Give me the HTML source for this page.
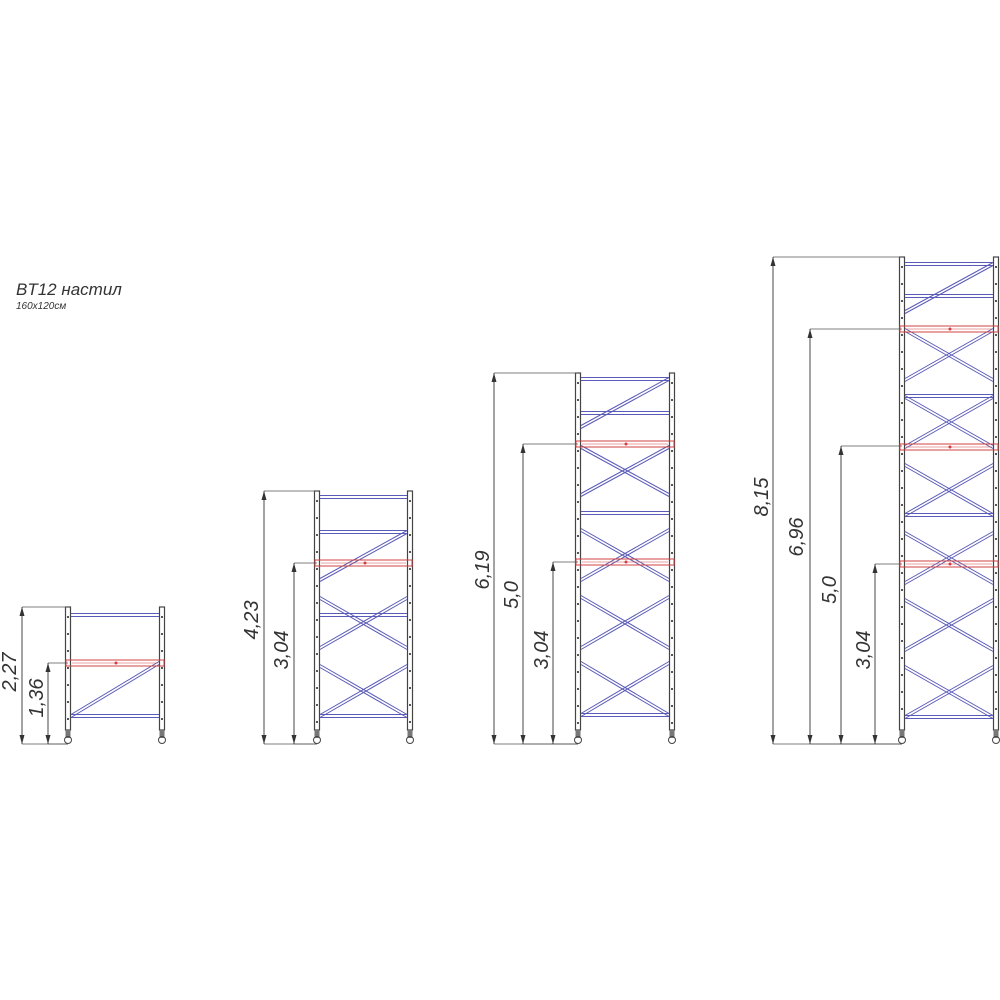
<!DOCTYPE html>
<html><head><meta charset="utf-8"><style>
html,body{margin:0;padding:0;background:#fff;width:1000px;height:1000px;overflow:hidden}
svg{display:block}
.t{font-family:"Liberation Sans",sans-serif;font-style:italic;fill:#333}
</style></head><body>
<svg id="s" width="1000" height="1000" viewBox="0 0 1000 1000" xmlns="http://www.w3.org/2000/svg">
<g id="g"></g>
<text class="t" x="16" y="295" font-size="17">BT12 настил</text>
<text class="t" x="16" y="309" font-size="10">160x120см</text>
<g class="t" font-size="20" text-anchor="middle">
<text transform="translate(16,672) rotate(-90)">2,27</text>
<text transform="translate(43,698) rotate(-90)">1,36</text>
<text transform="translate(258,620) rotate(-90)">4,23</text>
<text transform="translate(288,650) rotate(-90)">3,04</text>
<text transform="translate(489,570) rotate(-90)">6,19</text>
<text transform="translate(518,595) rotate(-90)">5,0</text>
<text transform="translate(548,650) rotate(-90)">3,04</text>
<text transform="translate(768,497) rotate(-90)">8,15</text>
<text transform="translate(803,537) rotate(-90)">6,96</text>
<text transform="translate(836,590) rotate(-90)">5,0</text>
<text transform="translate(870,650) rotate(-90)">3,04</text>
</g>
</svg>
<script>
var g=document.getElementById('g'),h='';
function L(x1,y1,x2,y2,c,w){h+='<line x1="'+x1+'" y1="'+y1+'" x2="'+x2+'" y2="'+y2+'" stroke="'+c+'" stroke-width="'+(w||1)+'"/>';}
var B='#5a5ab8',R='#d04040',K='#444';
function rail(xl,xr,y){L(xl+3,y-1.5,xr-3,y-1.5,B);L(xl+3,y+1.5,xr-3,y+1.5,B);}
function red(xl,xr,y){h+='<rect x="'+(xl-2)+'" y="'+(y-3)+'" width="'+(xr-xl+4)+'" height="6" fill="none" stroke="'+R+'" stroke-width="1"/>';L(xl+4,y,xr-4,y,R,0.5);h+='<circle cx="'+(xl+48)+'" cy="'+y+'" r="1.5" fill="'+R+'"/>';}
function diag(x1,y1,x2,y2){L(x1,y1-1.5,x2,y2-1.5,B);L(x1,y1+1.5,x2,y2+1.5,B);}
function X(xl,xr,y1,y2){diag(xl+3,y1,xr-3,y2);diag(xr-3,y1,xl+3,y2);}
function post(x,top){h+='<rect x="'+(x-2.5)+'" y="'+top+'" width="5" height="'+(730-top)+'" fill="none" stroke="'+K+'" stroke-width="1.2"/>';
 for(var y=top+10;y<725;y+=17){h+='<circle cx="'+x+'" cy="'+y+'" r="1" fill="#222"/>';}
 h+='<rect x="'+(x-2.5)+'" y="730" width="5" height="8" fill="#777"/>';h+='<circle cx="'+x+'" cy="740" r="3.5" fill="none" stroke="'+K+'"/>';}
function dim(x,top,xp){L(x,top,xp,top,'#555',0.8);L(x,744,xp,744,'#555',0.8);L(x,top,x,744,'#333',0.9);
 h+='<path d="M'+x+' '+top+' l-2.5 9 h5z M'+x+' 744 l-2.5 -9 h5z" fill="#333"/>';}
var a=68,b=162;post(a,607);post(b,607);rail(a,b,615);diag(a+3,716,b-3,663);rail(a,b,716);red(a,b,663);
dim(22,607,a);dim(48,663,a);
a=317;b=410;post(a,491);post(b,491);rail(a,b,497);rail(a,b,532);diag(b-3,532,a+3,580);X(a,b,598,648);rail(a,b,615);X(a,b,666,716);rail(a,b,716);red(a,b,563);
dim(264,491,a);dim(294,563,a);
a=578;b=672;post(a,373);post(b,373);rail(a,b,379);rail(a,b,413);diag(b-3,379,a+3,427);X(a,b,447,495);rail(a,b,513);X(a,b,530,580);X(a,b,597,648);X(a,b,663,715);rail(a,b,715);red(a,b,444);red(a,b,562);
dim(494,373,a);dim(523,444,a);dim(553,562,a);
a=902;b=996;post(a,257);post(b,257);rail(a,b,264);rail(a,b,296);diag(b-3,264,a+3,312);X(a,b,330,380);rail(a,b,396);X(a,b,397,447);X(a,b,465,515);rail(a,b,515);X(a,b,533,583);X(a,b,600,650);X(a,b,667,717);rail(a,b,717);red(a,b,329);red(a,b,447);red(a,b,564);
dim(773,257,a);dim(810,329,a);dim(841,446,a);dim(875,564,a);
g.innerHTML=h;
</script>
</body></html>
